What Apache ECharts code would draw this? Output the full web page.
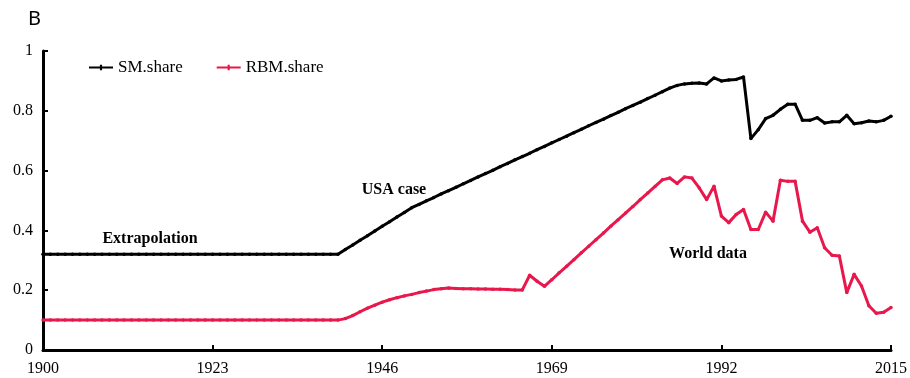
<!DOCTYPE html>
<html>
<head>
<meta charset="utf-8">
<script src="https://cdn.jsdelivr.net/npm/echarts@6/dist/echarts.min.js"></script>
<style>
  html, body { margin: 0; padding: 0; background: #fff; }
  #chart { width: 910px; height: 378px; }
</style>
</head>
<body>
<div id="chart"></div>
<script>
// Years on the horizontal axis
const years = [];
for (let y = 1900; y <= 2015; y++) years.push(String(y));

// SM.share, one value per year 1900-2015
const smShare = [
  0.32, 0.32, 0.32, 0.32, 0.32, 0.32, 0.32, 0.32, 0.32, 0.32,
  0.32, 0.32, 0.32, 0.32, 0.32, 0.32, 0.32, 0.32, 0.32, 0.32,
  0.32, 0.32, 0.32, 0.32, 0.32, 0.32, 0.32, 0.32, 0.32, 0.32,
  0.32, 0.32, 0.32, 0.32, 0.32, 0.32, 0.32, 0.32, 0.32, 0.32,
  0.32,
  0.336, 0.351, 0.367, 0.382, 0.398, 0.414, 0.429, 0.445, 0.460, 0.476,
  0.487, 0.499, 0.510, 0.522, 0.533, 0.544, 0.556, 0.567, 0.579, 0.590,
  0.601, 0.613, 0.624, 0.636, 0.647, 0.658, 0.670, 0.681, 0.693, 0.704,
  0.715, 0.727, 0.738, 0.750, 0.761, 0.772, 0.784, 0.795, 0.807, 0.818,
  0.829, 0.841, 0.852, 0.864,
  0.876, 0.885, 0.890, 0.892, 0.893, 0.890, 0.910, 0.900, 0.903, 0.905,
  0.913, 0.707, 0.737, 0.774, 0.785, 0.805, 0.822, 0.822, 0.768, 0.768,
  0.777, 0.759, 0.763, 0.763, 0.785, 0.757, 0.760, 0.766, 0.763, 0.768,
  0.782
];

// RBM.share, one value per year 1900-2015
const rbmShare = [
  0.10, 0.10, 0.10, 0.10, 0.10, 0.10, 0.10, 0.10, 0.10, 0.10,
  0.10, 0.10, 0.10, 0.10, 0.10, 0.10, 0.10, 0.10, 0.10, 0.10,
  0.10, 0.10, 0.10, 0.10, 0.10, 0.10, 0.10, 0.10, 0.10, 0.10,
  0.10, 0.10, 0.10, 0.10, 0.10, 0.10, 0.10, 0.10, 0.10, 0.10,
  0.10,
  0.105, 0.115, 0.128, 0.140, 0.150, 0.160, 0.168, 0.175, 0.181, 0.186,
  0.192, 0.197, 0.202, 0.205, 0.207, 0.206, 0.205, 0.205, 0.204, 0.204,
  0.203, 0.203, 0.202, 0.201, 0.201, 0.250, 0.230, 0.213,
  0.235, 0.258, 0.280, 0.302, 0.325, 0.347, 0.369, 0.391, 0.414, 0.436,
  0.458, 0.480, 0.503, 0.525, 0.547, 0.569,
  0.575, 0.557, 0.579, 0.575, 0.542, 0.503, 0.548, 0.448, 0.426, 0.453,
  0.470, 0.403, 0.403, 0.461, 0.431, 0.568, 0.564, 0.564, 0.431, 0.394,
  0.409, 0.342, 0.317, 0.314, 0.192, 0.253, 0.214, 0.148, 0.123, 0.126,
  0.142
];

const seriesNames = ['SM.share', 'RBM.share'];
const seriesColors = ['#000000', '#E8184C'];

const serif = '"Liberation Serif", "Times New Roman", serif';

// Legend key: a short line with a small tick mark in the middle
const legendIcon = 'path://M0,4 L22,4 L22,6 L0,6 Z M10,2.5 L12,2.5 L12,7.5 L10,7.5 Z';

const chart = echarts.init(document.getElementById('chart'), null, { renderer: 'canvas' });

chart.setOption({
  backgroundColor: '#ffffff',
  animation: false,
  grid: { left: 43, right: 17, top: 51, bottom: 28, containLabel: false },
  legend: {
    left: 89,
    top: 59,
    padding: 0,
    icon: legendIcon,
    itemWidth: 24,
    itemHeight: 10,
    itemGap: 34,
    textStyle: { fontFamily: serif, fontSize: 17, color: '#000' },
    data: seriesNames
  },
  xAxis: {
    type: 'category',
    data: years,
    boundaryGap: false,
    axisLine: { lineStyle: { color: '#000', width: 3 } },
    axisTick: { inside: true, length: 5, interval: 22, lineStyle: { color: '#000', width: 2 } },
    axisLabel: { interval: 22, margin: 11, fontFamily: serif, fontSize: 16, color: '#000' },
    splitLine: { show: false }
  },
  yAxis: {
    type: 'value',
    min: 0,
    max: 1,
    interval: 0.2,
    axisLine: { show: true, lineStyle: { color: '#000', width: 3 } },
    axisTick: { show: true, inside: true, length: 5, lineStyle: { color: '#000', width: 2 } },
    axisLabel: { margin: 10, fontFamily: serif, fontSize: 16, color: '#000' },
    splitLine: { show: false }
  },
  series: [
    {
      name: seriesNames[0],
      type: 'line',
      data: smShare,
      color: seriesColors[0],
      symbol: 'circle',
      symbolSize: 3.5,
      showAllSymbol: true,
      lineStyle: { width: 3, color: seriesColors[0] },
      itemStyle: { color: seriesColors[0] }
    },
    {
      name: seriesNames[1],
      type: 'line',
      data: rbmShare,
      color: seriesColors[1],
      symbol: 'circle',
      symbolSize: 3.5,
      showAllSymbol: true,
      lineStyle: { width: 3, color: seriesColors[1] },
      itemStyle: { color: seriesColors[1] }
    }
  ],
  graphic: [
    {
      type: 'text', left: 28, top: 9,
      style: { text: 'B', font: '20px "Noto Sans", "Liberation Sans", sans-serif', fill: '#000' }
    },
    {
      type: 'text', x: 150, y: 239,
      style: { text: 'Extrapolation', font: 'bold 16px ' + serif, fill: '#000', align: 'center', verticalAlign: 'middle' }
    },
    {
      type: 'text', x: 394, y: 190,
      style: { text: 'USA case', font: 'bold 16px ' + serif, fill: '#000', align: 'center', verticalAlign: 'middle' }
    },
    {
      type: 'text', x: 708, y: 254,
      style: { text: 'World data', font: 'bold 16px ' + serif, fill: '#000', align: 'center', verticalAlign: 'middle' }
    }
  ]
});
</script>
</body>
</html>
